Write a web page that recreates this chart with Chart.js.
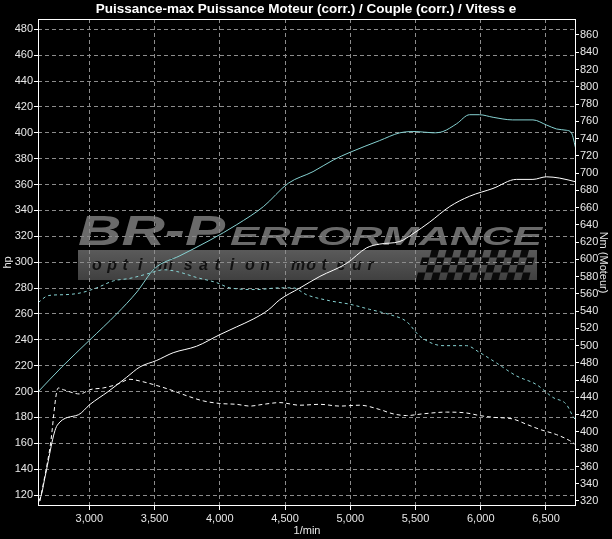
<!DOCTYPE html>
<html>
<head>
<meta charset="utf-8">
<script src="https://cdn.jsdelivr.net/npm/chart.js@4.4.1/dist/chart.umd.min.js"></script>
<style>
    html, body { margin: 0; padding: 0; background: #000; }
    #cadre { width: 612px; height: 539px; }
</style>
</head>
<body>
<div id="cadre"><canvas id="graficoBanc" width="612" height="539"></canvas></div>
<script>
const titre = 'Puissance-max Puissance Moteur (corr.) / Couple (corr.) / Vitess e';

// graduations
const ticksRpm = [3000, 3500, 4000, 4500, 5000, 5500, 6000, 6500];
const ticksHp = [120, 140, 160, 180, 200, 220, 240, 260, 280, 300, 320, 340, 360, 380, 400, 420, 440, 460, 480];
const ticksNm = [320, 340, 360, 380, 400, 420, 440, 460, 480, 500, 520, 540, 560, 580, 600, 620, 640, 660, 680, 700, 720, 740, 760, 780, 800, 820, 840, 860];

// puissance apres optimisation (cyan, hp)
const rpmPuissanceOpti = [2610, 2790, 3005, 3210, 3365, 3500, 3695, 3925, 4130, 4335, 4525, 4715, 4870, 5000, 5225, 5380, 5505, 5635, 5710, 5815, 5915, 5990, 6095, 6245, 6400, 6505, 6580, 6655, 6695, 6730];
const puissanceOpti = [200, 219, 240, 260, 277, 295, 305, 317, 329, 343, 361, 370, 379, 385, 394, 400, 401, 400, 401, 407, 414, 414, 412, 410, 410, 406, 403, 402, 400, 387];

// puissance serie (blanc, hp)
const rpmPuissanceSerie = [2609, 2635, 2661, 2755, 2916, 3005, 3145, 3286, 3388, 3516, 3643, 3822, 4001, 4129, 4256, 4371, 4460, 4613, 4767, 4971, 5124, 5226, 5380, 5481, 5609, 5762, 5915, 6094, 6273, 6400, 6503, 6605, 6733];
const puissanceSerie = [114, 121, 134, 174, 182, 190, 200, 211, 219, 224, 230, 235, 244, 250, 256, 263, 271, 280, 289, 299, 311, 314, 316, 322, 331, 343, 351, 357, 364, 364, 366, 365, 362];

// couple apres optimisation (cyan pointille, Nm)
const rpmCoupleOpti = [2609, 2686, 2801, 2929, 3057, 3184, 3312, 3465, 3567, 3669, 3822, 3976, 4077, 4282, 4460, 4562, 4665, 4843, 4997, 5150, 5303, 5431, 5533, 5711, 5890, 5992, 6120, 6273, 6426, 6553, 6656, 6707, 6733];
const coupleOpti = [550, 558, 559, 561, 567, 575, 578, 584, 588, 586, 579, 573, 567, 565, 567, 567, 559, 552, 548, 542, 536, 528, 511, 500, 500, 492, 480, 465, 455, 440, 432, 418, 413];

// couple serie (blanc pointille, Nm)
const rpmCoupleSerie = [2622, 2699, 2762, 2801, 2929, 3005, 3107, 3210, 3312, 3388, 3490, 3618, 3746, 3873, 4001, 4129, 4231, 4333, 4460, 4613, 4767, 4920, 5073, 5226, 5328, 5431, 5558, 5737, 5890, 5992, 6094, 6247, 6349, 6452, 6579, 6681, 6720];
const coupleSerie = [320, 382, 451, 449, 444, 449, 451, 455, 461, 459, 455, 449, 442, 436, 433, 432, 430, 432, 434, 431, 432, 430, 431, 426, 421, 419, 421, 423, 422, 419, 417, 415, 409, 403, 397, 390, 386];

const police = "'Liberation Sans Narrow', 'Arial Narrow', 'Liberation Sans', Arial, sans-serif";
const couleurTexte = '#e8e8e8';

const points = (xs, ys) => xs.map((x, i) => ({ x, y: ys[i] }));

// fond noir + logo en filigrane
const filigrane = {
    id: 'filigrane',
    beforeDraw(chart) {
        const { ctx, chartArea: a } = chart;
        ctx.save();
        ctx.fillStyle = '#000';
        ctx.fillRect(0, 0, chart.width, chart.height);

        const x0 = a.left + 40;
        const grad = ctx.createLinearGradient(0, a.top + 196, 0, a.top + 226);
        grad.addColorStop(0, '#6a6a6a');
        grad.addColorStop(1, '#2c2c2c');
        ctx.fillStyle = grad;
        ctx.textBaseline = 'alphabetic';

        // "BR-P" grand
        ctx.font = "italic bold 42px 'Liberation Sans', Arial, sans-serif";
        let w = ctx.measureText('BR-P').width;
        ctx.save();
        ctx.translate(x0, a.top + 226);
        ctx.scale(147 / w, 1);
        ctx.fillText('BR-P', 0, 0);
        ctx.restore();

        // "ERFORMANCE" plus petit
        ctx.font = "italic bold 25px 'Liberation Sans', Arial, sans-serif";
        w = ctx.measureText('ERFORMANCE').width;
        ctx.save();
        ctx.translate(x0 + 152, a.top + 226);
        ctx.scale(312 / w, 1);
        ctx.fillText('ERFORMANCE', 0, 0);
        ctx.restore();

        // bandeau gris
        const by = a.top + 231, bh = 30, bx2 = a.left + 499;
        const gb = ctx.createLinearGradient(0, by, 0, by + bh);
        gb.addColorStop(0, '#5a5a5a');
        gb.addColorStop(1, '#404040');
        ctx.fillStyle = gb;
        ctx.fillRect(x0, by, bx2 - x0, bh);

        // damier
        const cote = 7.5;
        for (let r = 0; r < 4; r++) {
            for (let c = 0; c < 16; c++) {
                if ((r + c) % 2 === 0) continue;
                const cx = a.left + 378 + c * cote + (3 - r) * 2;
                if (cx + cote > bx2) continue;
                const cy = by + r * cote;
                ctx.fillStyle = '#0a0a0a';
                ctx.beginPath();
                ctx.moveTo(cx + 2, cy);
                ctx.lineTo(cx + cote + 2, cy);
                ctx.lineTo(cx + cote, cy + cote);
                ctx.lineTo(cx, cy + cote);
                ctx.closePath();
                ctx.fill();
            }
        }

        // texte "optimisation moteur"
        ctx.fillStyle = '#111';
        ctx.font = "italic bold 16px 'Liberation Sans', Arial, sans-serif";
        const txt = 'optimisation moteur';
        for (let i = 0; i < txt.length; i++) {
            ctx.fillText(txt[i], a.left + 54 + i * 15.3, by + 20);
        }
        ctx.restore();
    },
    afterDraw(chart) {
        const { ctx, chartArea: a } = chart;
        ctx.save();
        ctx.strokeStyle = '#fff';
        ctx.lineWidth = 1;
        ctx.strokeRect(Math.round(a.left) + 0.5, Math.round(a.top) + 0.5,
            Math.round(a.right - a.left) - 1, Math.round(a.bottom - a.top) - 1);
        ctx.restore();
    }
};

const grille = { color: '#8c8c8c', tickColor: '#fff', tickBorderDash: [], lineWidth: 1 };

new Chart(document.getElementById('graficoBanc'), {
    type: 'line',
    data: {
        datasets: [
            {
                label: 'Couple serie',
                data: points(rpmCoupleSerie, coupleSerie),
                yAxisID: 'y1',
                borderColor: '#ffffff',
                borderWidth: 1,
                borderDash: [4, 3],
                pointRadius: 0,
                cubicInterpolationMode: 'monotone'
            },
            {
                label: 'Couple opti',
                data: points(rpmCoupleOpti, coupleOpti),
                yAxisID: 'y1',
                borderColor: '#86d2d2',
                borderWidth: 1,
                borderDash: [3, 3],
                pointRadius: 0,
                cubicInterpolationMode: 'monotone'
            },
            {
                label: 'Puissance serie',
                data: points(rpmPuissanceSerie, puissanceSerie),
                yAxisID: 'y',
                borderColor: '#ffffff',
                borderWidth: 1,
                pointRadius: 0,
                cubicInterpolationMode: 'monotone'
            },
            {
                label: 'Puissance opti',
                data: points(rpmPuissanceOpti, puissanceOpti),
                yAxisID: 'y',
                borderColor: '#86d2d2',
                borderWidth: 1,
                pointRadius: 0,
                cubicInterpolationMode: 'monotone'
            }
        ]
    },
    options: {
        responsive: false,
        animation: false,
        devicePixelRatio: 1,
        layout: { padding: 0 },
        plugins: {
            legend: { display: false },
            tooltip: { enabled: false },
            title: {
                display: true,
                text: titre,
                color: '#fff',
                font: { family: police, size: 13.5, weight: 'bold', lineHeight: 1.2 },
                padding: { top: 1, bottom: 1.8 }
            }
        },
        scales: {
            x: {
                type: 'linear',
                min: 2607,
                max: 6730,
                afterBuildTicks: s => { s.ticks = ticksRpm.map(v => ({ value: v })); },
                afterFit: s => { s.height = 33; },
                ticks: {
                    color: couleurTexte,
                    font: { family: police, size: 11 },
                    padding: 2,
                    maxRotation: 0,
                    callback: v => Number(v).toLocaleString('en-US')
                },
                grid: { ...grille, tickLength: 4 },
                border: { display: false, dash: [4, 3] },
                title: {
                    display: true,
                    text: '1/min',
                    color: couleurTexte,
                    font: { family: police, size: 11 },
                    padding: { top: 0, bottom: 1.5 }
                }
            },
            y: {
                position: 'left',
                min: 111.5,
                max: 488,
                afterBuildTicks: s => { s.ticks = ticksHp.map(v => ({ value: v })); },
                afterFit: s => { s.width = 38; },
                ticks: {
                    color: couleurTexte,
                    font: { family: police, size: 11 },
                    padding: 1
                },
                grid: { ...grille, tickLength: 4 },
                border: { display: false, dash: [4, 3] },
                title: {
                    display: true,
                    text: 'hp',
                    color: couleurTexte,
                    font: { family: police, size: 11 },
                    padding: { top: 1.4, bottom: 0 }
                }
            },
            y1: {
                position: 'right',
                min: 314.2,
                max: 878.5,
                afterBuildTicks: s => { s.ticks = ticksNm.map(v => ({ value: v })); },
                afterFit: s => { s.width = 36; },
                ticks: {
                    color: couleurTexte,
                    font: { family: police, size: 11 },
                    padding: 1
                },
                grid: { ...grille, drawOnChartArea: false, tickLength: 3 },
                border: { display: false },
                title: {
                    display: true,
                    text: 'Nm (Moteur)',
                    color: couleurTexte,
                    font: { family: police, size: 11 },
                    padding: { top: 2.4, bottom: 0 }
                }
            }
        }
    },
    plugins: [filigrane]
});
</script>
</body>
</html>
